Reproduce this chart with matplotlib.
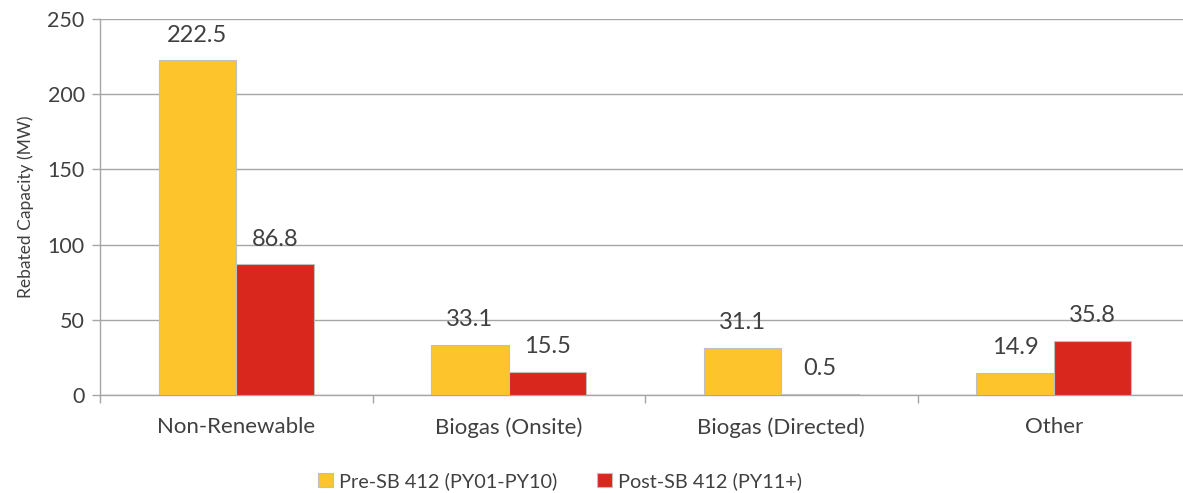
import matplotlib
matplotlib.use("Agg")
import matplotlib.pyplot as plt
import numpy as np
from matplotlib.ticker import MultipleLocator

categories = ["Non-Renewable", "Biogas (Onsite)", "Biogas (Directed)", "Other"]
pre_sb = [222.5, 33.1, 31.1, 14.9]
post_sb = [86.8, 15.5, 0.5, 35.8]
series_names = ["Pre-SB 412 (PY01-PY10)", "Post-SB 412 (PY11+)"]
colors = ["#FDC52B", "#D9271D"]

plt.rcParams['font.family'] = ['Lato', 'DejaVu Sans']
text_color = "#404040"

fig = plt.figure(figsize=(11.83, 4.93), dpi=100)
W, H = 1183, 493
ax = fig.add_axes([100 / W, (H - 395) / H, 1090 / W, (395 - 19) / H])

x = np.arange(len(categories))
bw = 0.285
series = [pre_sb, post_sb]
offsets = [-bw / 2, bw / 2]
for vals, off, col, name in zip(series, offsets, colors, series_names):
    bars = ax.bar(x + off, vals, width=bw, color=col, edgecolor="#BFBFBF",
                  linewidth=0.8, label=name, zorder=3)
    for b, v in zip(bars, vals):
        ax.annotate(f"{v:.1f}", (b.get_x() + b.get_width() / 2, v),
                    xytext=(0, 13.5), textcoords="offset points",
                    ha="center", va="baseline", fontsize=17, color=text_color)

ax.set_xlim(-0.5, len(categories) - 0.5)
ax.set_ylim(0, 250)
ax.yaxis.set_major_locator(MultipleLocator(50))
ax.grid(axis="y", color="#A6A6A6", linewidth=1, zorder=0)
ax.set_axisbelow(True)

ax.set_xticks(x)
ax.set_xticklabels(categories, fontsize=16, color=text_color)
ax.tick_params(axis="x", which="major", length=0, pad=16)
ax.set_xticks(np.arange(-0.5, len(categories) + 0.5, 1), minor=True)
ax.tick_params(axis="x", which="minor", length=6, color="#A6A6A6", width=1)
ax.tick_params(axis="y", length=6, color="#A6A6A6", width=1, labelsize=15.5,
               labelcolor=text_color, pad=5)

for s in ["top", "right"]:
    ax.spines[s].set_visible(False)
for s in ["left", "bottom"]:
    ax.spines[s].set_color("#A6A6A6")
    ax.spines[s].set_linewidth(1)

ax.set_ylabel("Rebated Capacity (MW)", fontsize=12.5, color=text_color, labelpad=10)

leg = fig.legend(loc="center", bbox_to_anchor=(560 / W, (H - 481) / H), ncol=2,
                 frameon=False, fontsize=14.3, handlelength=0.75, handleheight=0.75,
                 handletextpad=0.3, columnspacing=2.0, labelcolor=text_color)

fig.savefig("out.png", dpi=100)
